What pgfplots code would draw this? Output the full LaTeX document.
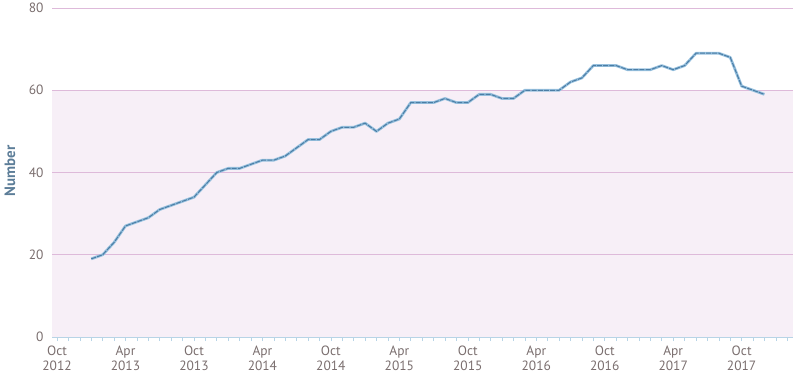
\documentclass[border=0pt]{standalone}
\usepackage{pgfplots}
\pgfplotsset{compat=1.18}
\usepackage{fontspec}
\setmainfont{PT Sans}
\definecolor{band}{RGB}{247,239,247}
\definecolor{gridc}{RGB}{222,186,218}
\definecolor{axisc}{RGB}{184,212,230}
\definecolor{tickc}{RGB}{122,110,110}
\definecolor{ylab}{RGB}{92,125,152}
\definecolor{lineo}{RGB}{150,192,222}
\definecolor{linei}{RGB}{75,125,165}
\pgfplotstableread{
x y
3 19
4 20
5 23
6 27
7 28
8 29
9 31
10 32
11 33
12 34
13 37
14 40
15 41
16 41
17 42
18 43
19 43
20 44
21 46
22 48
23 48
24 50
25 51
26 51
27 52
28 50
29 52
30 53
31 57
32 57
33 57
34 58
35 57
36 57
37 59
38 59
39 58
40 58
41 60
42 60
43 60
44 60
45 62
46 63
47 66
48 66
49 66
50 65
51 65
52 65
53 66
54 65
55 66
56 69
57 69
58 69
59 68
60 61
61 60
62 59
}\datatab
\begin{document}
\begin{tikzpicture}
\begin{axis}[
  at={(52bp,49bp)}, anchor=south west,
  scale only axis, width=741bp, height=329bp,
  xmin=-0.44, xmax=64.5, ymin=0, ymax=80,
  axis x line*=bottom, axis y line=none,
  axis line style={axisc, line width=1pt},
  x axis line style={-},
  xtick={0,6,...,66},
  xticklabels={{Oct\\2012},{Apr\\2013},{Oct\\2013},{Apr\\2014},{Oct\\2014},{Apr\\2015},{Oct\\2015},{Apr\\2016},{Oct\\2016},{Apr\\2017},{Oct\\2017},{Apr\\2018}},
  x tick label style={align=center, font=\fontsize{13.5}{15}\selectfont, text=tickc, yshift=-1bp},
  minor x tick num=5,
  tick style={axisc, line width=0.6pt},
  major tick length=4bp, minor tick length=4bp,
  tick align=outside,
  xtick pos=bottom,
  clip=false,
  ytick=\empty,
]
\fill[band] (axis cs:-0.44,0) rectangle (axis cs:64.5,60);
\pgfplotsinvokeforeach{20,40,60,80}{
  \draw[gridc, line width=0.9pt] (axis cs:-0.44,#1) -- (axis cs:64.5,#1);
  \node[anchor=east, font=\fontsize{13.5}{15}\selectfont, text=tickc, xshift=-5bp] at (axis cs:-0.44,#1) {#1};
}
\node[anchor=east, font=\fontsize{13.5}{15}\selectfont, text=tickc, xshift=-5bp] at (axis cs:-0.44,0) {0};
\addplot[lineo, line width=2.8pt, line join=round] table {\datatab};
\addplot[linei, line width=1pt, line join=round, dash pattern=on 5pt off 1.2pt] table {\datatab};
\end{axis}
\node[rotate=90, font=\bfseries\fontsize{15}{16}\selectfont, text=ylab] at (10bp,215bp) {Number};
\pgfresetboundingbox
\useasboundingbox (0,0) rectangle (800bp,386bp);
\end{tikzpicture}
\end{document}
